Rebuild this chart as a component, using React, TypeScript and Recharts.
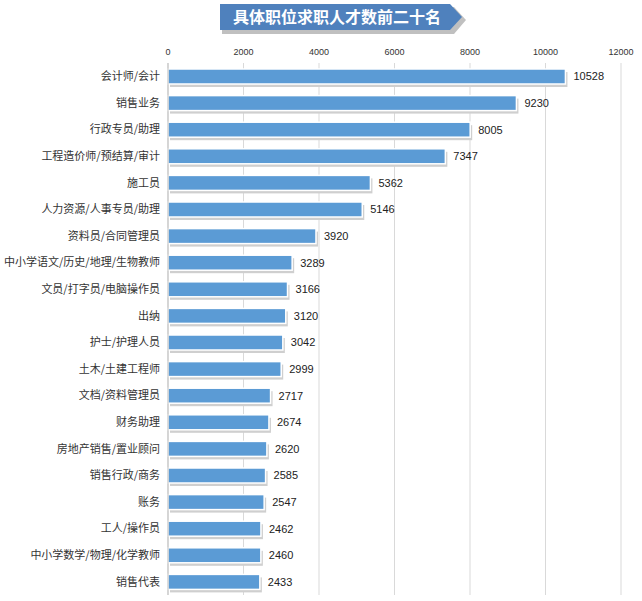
import { BarChart, Bar, XAxis, YAxis, CartesianGrid, LabelList } from 'recharts';

const jobs = [
  '会计师/会计',
  '销售业务',
  '行政专员/助理',
  '工程造价师/预结算/审计',
  '施工员',
  '人力资源/人事专员/助理',
  '资料员/合同管理员',
  '中小学语文/历史/地理/生物教师',
  '文员/打字员/电脑操作员',
  '出纳',
  '护士/护理人员',
  '土木/土建工程师',
  '文档/资料管理员',
  '财务助理',
  '房地产销售/置业顾问',
  '销售行政/商务',
  '账务',
  '工人/操作员',
  '中小学数学/物理/化学教师',
  '销售代表',
];
const counts = [10528, 9230, 8005, 7347, 5362, 5146, 3920, 3289, 3166, 3120, 3042, 2999, 2717, 2674, 2620, 2585, 2547, 2462, 2460, 2433];
const xTicks = [0, 2000, 4000, 6000, 8000, 10000, 12000];

const data = jobs.map((name, i) => ({ name, value: counts[i] }));

const ShadowBar = (props: any) => {
  const { x, y, width, height } = props;
  return (
    <g>
      <rect x={x + 2} y={y + 3} width={width} height={height} fill="#cfcfcf" />
      <rect x={x} y={y} width={width} height={height} fill="#5b9bd5" stroke="#ffffff" strokeWidth={1.5} />
    </g>
  );
};

export default function App() {
  return (
    <div style={{ position: 'absolute', left: 0, top: 0, width: 642, height: 601, background: '#fff' }}>
      <BarChart
        width={642}
        height={601}
        data={data}
        layout="vertical"
        margin={{ top: 42, right: 21, bottom: 6, left: 0 }}
        barSize={15}
      >
        <CartesianGrid horizontal={false} stroke="#d9d9d9" />
        <XAxis
          type="number"
          orientation="top"
          domain={[0, 12000]}
          ticks={xTicks}
          height={21}
          axisLine={false}
          tickLine={false}
          tick={{ fontSize: 9, fill: '#333', fontFamily: 'Liberation Sans, sans-serif' }}
        />
        <YAxis
          type="category"
          dataKey="name"
          width={168}
          axisLine={{ stroke: '#bfbfbf' }}
          tickLine={false}
          interval={0}
          tick={{ fontSize: 11, fill: '#333', fontFamily: 'Noto Sans CJK SC, sans-serif' }}
        />
        <Bar dataKey="value" shape={ShadowBar} isAnimationActive={false}>
          <LabelList
            dataKey="value"
            position="right"
            offset={8}
            style={{ fontSize: 11, fill: '#222', fontFamily: 'Liberation Sans, sans-serif' }}
          />
        </Bar>
      </BarChart>
      <svg width={642} height={40} style={{ position: 'absolute', left: 0, top: 0 }}>
        <polygon points="220,5 452,5 464,18 452,32 220,32" fill="#c0c0c0" transform="translate(2,2)" />
        <polygon points="220,4 450,4 462,17 450,30 220,30" fill="#4f81bd" />
        <text
          x={337}
          y={23}
          textAnchor="middle"
          fill="#fff"
          fontSize={16}
          fontWeight="bold"
          fontFamily="Noto Sans CJK SC, sans-serif"
        >
          具体职位求职人才数前二十名
        </text>
      </svg>
    </div>
  );
}
